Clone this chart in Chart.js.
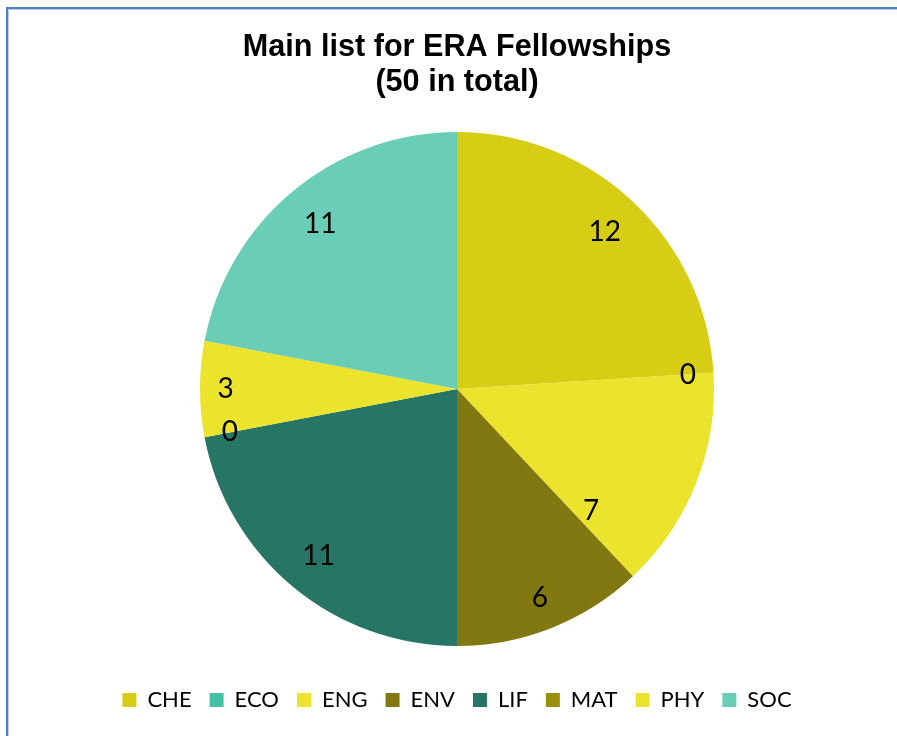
<!DOCTYPE html>
<html>
<head>
<meta charset="utf-8">
<script src="https://cdn.jsdelivr.net/npm/chart.js@4/dist/chart.umd.min.js"></script>
<style>
  html, body { margin: 0; padding: 0; background: #ffffff; overflow: hidden; }
  #frame {
    position: absolute; left: 6px; top: 7px; width: 1000px; height: 1000px;
    border: 2px solid #4f81bd; box-shadow: inset 0 0 0 1px #b9cde5;
  }
  #chart { position: absolute; left: 0; top: 0; }
</style>
</head>
<body>
<div id="frame"></div>
<canvas id="chart" width="897" height="736"></canvas>
<script>
// ------------------------------------------------------------
//  Daten
// ------------------------------------------------------------
const CATEGORIES = ['CHE', 'ECO', 'ENG', 'ENV', 'LIF', 'MAT', 'PHY', 'SOC'];
const FELLOWSHIPS = [12, 0, 7, 6, 11, 0, 3, 11];
const TITLE_LINES = ['Main list for ERA Fellowships', '(50 in total)'];

// Farben je Panel
const SLICE_COLORS = ['#d7cd15', '#45c2a4', '#ebe32c', '#817811', '#277564', '#9a8f0c', '#ebe32c', '#6acdb6'];

// Lage der Beschriftung: Anteil des Radius / Position im Segment (0..1)
const LABEL_RADIUS = [0.84, 0.90, 0.705, 0.875, 0.845, 0.90, 0.90, 0.835];
const LABEL_ALONG  = [0.5, 0.5, 0.91, 0.5, 0.5, 0.5, 0.5, 0.5];

// ------------------------------------------------------------
//  Wertbeschriftungen im Kreis
// ------------------------------------------------------------
const valueLabels = {
  id: 'valueLabels',
  afterDatasetsDraw(chart) {
    const ctx = chart.ctx;
    const meta = chart.getDatasetMeta(0);
    const values = chart.data.datasets[0].data;
    ctx.save();
    ctx.font = '28px Lato';
    ctx.fillStyle = '#000000';
    ctx.textAlign = 'center';
    ctx.textBaseline = 'middle';
    meta.data.forEach((arc, i) => {
      const p = arc.getProps(['x', 'y', 'startAngle', 'endAngle', 'outerRadius'], true);
      const a = p.startAngle + (p.endAngle - p.startAngle) * LABEL_ALONG[i];
      const r = p.outerRadius * LABEL_RADIUS[i];
      ctx.fillText(String(values[i]), p.x + Math.cos(a) * r, p.y + Math.sin(a) * r);
    });
    ctx.restore();
  }
};

new Chart(document.getElementById('chart'), {
  type: 'pie',
  data: {
    labels: CATEGORIES,
    datasets: [{
      data: FELLOWSHIPS,
      backgroundColor: SLICE_COLORS,
      borderWidth: 0,
      radius: 257
    }]
  },
  options: {
    responsive: false,
    animation: false,
    layout: { padding: { left: 17, top: 0, right: 0, bottom: 15 } },
    plugins: {
      title: {
        display: true,
        text: TITLE_LINES,
        color: '#000000',
        font: { family: 'Liberation Sans', size: 30.6, weight: 'bold', lineHeight: 1.144 },
        padding: { top: 30, bottom: 7 }
      },
      legend: {
        position: 'bottom',
        labels: {
          color: '#000000',
          font: { family: 'Lato', size: 22 },
          boxWidth: 14,
          boxHeight: 14,
          padding: 18
        }
      },
      tooltip: { enabled: false }
    }
  },
  plugins: [valueLabels]
});
</script>
</body>
</html>
